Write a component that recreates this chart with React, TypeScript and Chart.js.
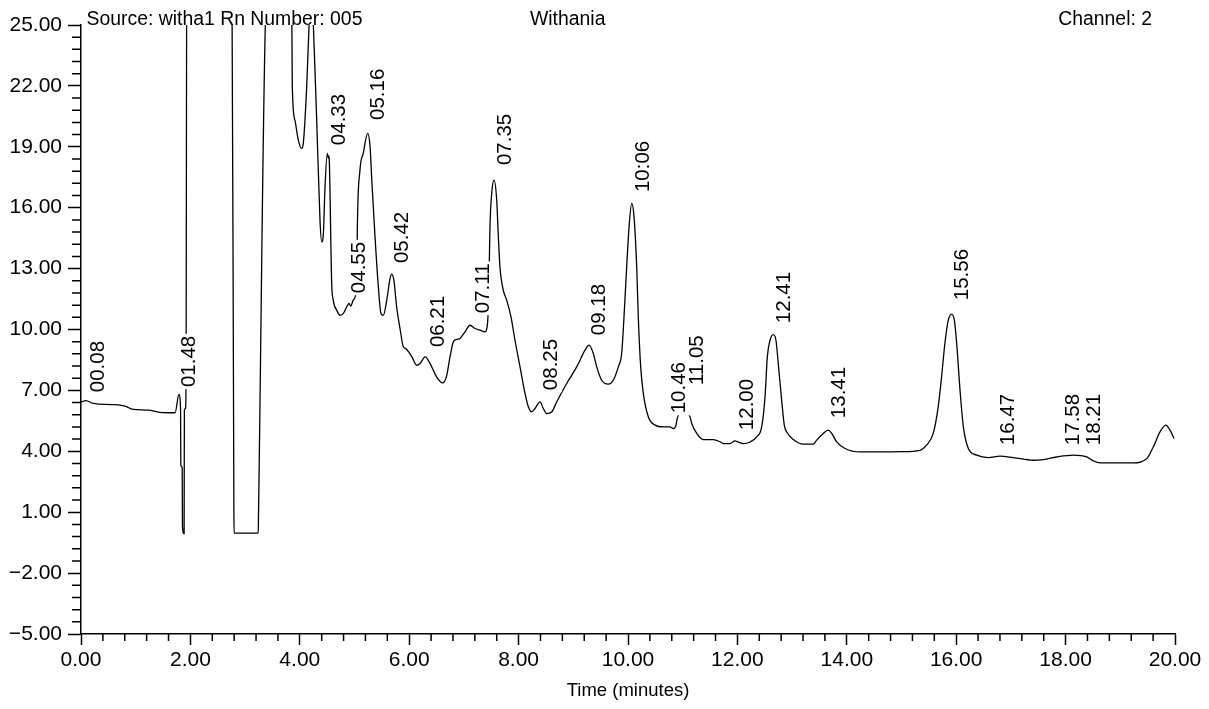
import React, { useEffect, useRef } from "react";
import { Chart, registerables } from "chart.js";

Chart.register(...registerables);

// ---- data (time in minutes, detector response) ----
const traceTimes: number[] = [
  0.0, 0.09, 0.22, 0.56, 0.74, 0.83, 0.93, 1.23, 1.44, 1.72, 1.79, 1.82, 1.825, 1.85, 1.855, 1.875, 1.885,
  1.89, 1.91, 1.92, 1.935, 2.755, 2.795, 2.8, 3.24, 3.245, 3.39, 3.84, 3.863, 3.912, 3.973, 4.035, 4.064,
  4.126, 4.168, 4.21, 4.245, 4.309, 4.369, 4.4, 4.431, 4.461, 4.503, 4.521, 4.53, 4.539, 4.583, 4.611,
  4.675, 4.736, 4.797, 4.858, 4.9, 4.931, 4.978, 5.02, 5.045, 5.051, 5.1, 5.16, 5.241, 5.285, 5.316,
  5.375, 5.436, 5.484, 5.527, 5.59, 5.65, 5.68, 5.72, 5.77, 5.832, 5.892, 5.93, 5.99, 6.05, 6.14, 6.2,
  6.29, 6.38, 6.5, 6.61, 6.68, 6.746, 6.807, 6.868, 6.929, 7.02, 7.112, 7.203, 7.294, 7.386, 7.428,
  7.455, 7.465, 7.477, 7.508, 7.55, 7.6, 7.627, 7.659, 7.72, 7.782, 7.861, 7.934, 8.026, 8.117, 8.178,
  8.24, 8.3, 8.391, 8.452, 8.513, 8.605, 8.696, 8.879, 9.062, 9.214, 9.287, 9.366, 9.428, 9.519, 9.64,
  9.731, 9.823, 9.884, 9.927, 9.976, 10.024, 10.068, 10.11, 10.159, 10.188, 10.232, 10.28, 10.371,
  10.494, 10.645, 10.768, 10.829, 10.878, 10.9, 10.95, 11.01, 11.08, 11.133, 11.165, 11.256, 11.378,
  11.56, 11.682, 11.743, 11.865, 11.956, 12.017, 12.109, 12.23, 12.353, 12.444, 12.505, 12.547, 12.596,
  12.657, 12.705, 12.747, 12.809, 12.857, 12.9, 13.022, 13.205, 13.388, 13.449, 13.57, 13.662, 13.724,
  13.815, 13.967, 14.241, 14.667, 15.0, 15.338, 15.457, 15.58, 15.671, 15.733, 15.793, 15.855, 15.918,
  15.966, 16.009, 16.07, 16.131, 16.222, 16.375, 16.587, 16.801, 17.044, 17.41, 17.593, 17.837, 18.141,
  18.385, 18.507, 18.629, 19.238, 19.483, 19.604, 19.726, 19.831, 19.909, 19.982,
];
const traceValues: number[] = [
  6.42, 6.5, 6.36, 6.3, 6.26, 6.2, 6.08, 6.03, 5.92, 5.9, 6.8, 6.1, 3.3, 3.2, 0.3, -0.06, -0.06,
  6.05, 6.1, 7.2, 30, 30, 1.0, -0.03, -0.03, 0.85, 26.5, 30, 21.96, 20.3, 19.33, 18.92, 19.17,
  21.96, 24.9, 27, 25.2, 20.3, 15.4, 14.32, 14.73, 17.03, 18.68, 18.43, 18.55, 18.35, 12.27, 11.45,
  10.95, 10.7, 10.79, 11.12, 11.28, 11.15, 11.45, 11.7, 13.0, 14.8, 17.85, 18.68, 19.66, 19.0, 17.36,
  14.57, 12.1, 10.79, 10.7, 11.45, 12.52, 12.73, 12.43, 11.12, 10.05, 9.15, 9.07, 8.9, 8.65, 8.24, 8.33,
  8.65, 8.33, 7.67, 7.37, 7.67, 8.65, 9.39, 9.51, 9.56, 9.88, 10.21, 10.05, 9.97, 9.88, 10.2,
  11.8, 13.34, 15.1, 16.7, 17.36, 16.37, 14.73, 13.09, 11.94, 11.45, 10.62, 9.47, 8.16, 6.85, 6.19,
  5.94, 6.11, 6.43, 6.11, 5.86, 5.94, 6.43, 7.34, 8.16, 8.98, 9.23, 8.82, 8.16, 7.5, 7.31,
  7.5, 8.16, 8.82, 10.62, 13.09, 15.23, 16.21, 15.55, 13.09, 10.62, 8.16, 6.85, 5.7,
  5.29, 5.2, 5.2, 5.12, 5.29, 5.62, 5.9, 6.0, 5.95, 5.7, 5.37, 4.88, 4.58,
  4.58, 4.47, 4.38, 4.38, 4.51, 4.45, 4.38, 4.46, 4.71, 5.2, 6.68, 8.65, 9.47,
  9.75, 9.47, 8.33, 6.52, 5.29, 4.96, 4.58, 4.35, 4.35, 4.55, 4.88, 5.04, 4.88,
  4.46, 4.14, 3.97, 3.97, 3.98, 4.05, 4.3, 4.88, 6.19, 7.67, 9.31, 10.46, 10.76,
  10.46, 9.31, 7.0, 5.2, 4.14, 3.81, 3.69, 3.76, 3.69, 3.56, 3.59, 3.72, 3.81,
  3.72, 3.53, 3.43, 3.43, 3.64, 4.22, 4.96, 5.29, 5.04, 4.63,
];

// peak labels (retention time mm.ss) and the response level they sit above
const peakLabels: string[] = [
  "00.08", "01.48", "04.33", "04.55", "05.16", "05.42", "06.21", "07.11", "07.35", "08.25", "09.18",
  "10:06", "10.46", "11.05", "12.00", "12.41", "13.41", "15.56", "16.47", "17.58", "18.21",
];
const peakValues: number[] = [
  6.37, 6.62, 18.54, 11.25, 19.78, 12.73, 8.59, 10.26, 17.56, 6.47, 9.18,
  16.23, 5.33, 6.72, 4.5, 9.77, 5.09, 10.9, 3.76, 3.76, 3.76,
];

const headerLeft = "Source: witha1 Rn Number: 005";
const headerMiddle = "Withania";
const headerRight = "Channel: 2";
const xAxisTitle = "Time (minutes)";

const xMin = 0, xMax = 20, xMajor = 2, xMinor = 0.4;
const yMin = -5, yMax = 25, yMajor = 3, yMinor = 0.6;

const FONT = '"Liberation Sans", Arial, Helvetica, sans-serif';

const labelTime = (l: string) => {
  const [m, s] = l.split(/[.:]/).map(Number);
  return m + s / 60;
};
const fmt = (v: number) => (v < 0 ? "\u2212" + Math.abs(v).toFixed(2) : v.toFixed(2));

const decorPlugin = {
  id: "decor",
  afterDatasetsDraw(chart: any) {
    const { ctx, scales } = chart;
    const x = scales.x, y = scales.y;
    ctx.save();
    ctx.font = `20.5px ${FONT}`;
    ctx.textBaseline = "top";
    ctx.textAlign = "left";
    peakLabels.forEach((lab, i) => {
      const px = x.getPixelForValue(labelTime(lab)) - 0.5;
      const py = y.getPixelForValue(peakValues[i]) - 11;
      ctx.save();
      ctx.translate(px, py);
      ctx.rotate(-Math.PI / 2);
      const w = ctx.measureText(lab).width;
      ctx.fillStyle = "#fff";
      ctx.fillRect(-2, 1, w + 4, 20);
      ctx.fillStyle = "#000";
      ctx.fillText(lab, 0, 0);
      ctx.restore();
    });
    ctx.restore();
  },
  afterDraw(chart: any) {
    const { ctx, scales, chartArea } = chart;
    const x = scales.x, y = scales.y;
    ctx.save();
    ctx.strokeStyle = "#000";
    ctx.lineWidth = 1.5;
    ctx.beginPath();
    const ny = Math.round((yMax - yMin) / yMinor);
    for (let i = 0; i <= ny; i++) {
      if (i % Math.round(yMajor / yMinor) === 0) continue;
      const py = y.getPixelForValue(yMin + i * yMinor);
      ctx.moveTo(chartArea.left - 9, py);
      ctx.lineTo(chartArea.left, py);
    }
    const nx = Math.round((xMax - xMin) / xMinor);
    for (let i = 0; i <= nx; i++) {
      if (i % Math.round(xMajor / xMinor) === 0) continue;
      const px = x.getPixelForValue(xMin + i * xMinor);
      ctx.moveTo(px, chartArea.bottom);
      ctx.lineTo(px, chartArea.bottom + 7);
    }
    ctx.stroke();

    ctx.fillStyle = "#000";
    ctx.font = `19.4px ${FONT}`;
    ctx.textBaseline = "alphabetic";
    ctx.textAlign = "left";
    ctx.fillText(headerLeft, 86.5, 25);
    ctx.fillText(headerMiddle, 530, 25);
    ctx.textAlign = "right";
    ctx.fillText(headerRight, 1152, 25);
    ctx.restore();
  },
};

export default function App() {
  const ref = useRef<HTMLCanvasElement | null>(null);
  useEffect(() => {
    if (!ref.current) return;
    Chart.defaults.font.family = FONT;
    const data = traceTimes.map((t, i) => ({ x: t, y: traceValues[i] }));
    const chart = new Chart(ref.current, {
      type: "line",
      data: {
        datasets: [
          {
            data,
            borderColor: "#000",
            borderWidth: 1.3,
            pointRadius: 0,
            fill: false,
            cubicInterpolationMode: "monotone",
          } as any,
        ],
      },
      options: {
        animation: false,
        responsive: true,
        maintainAspectRatio: false,
        layout: { padding: { top: 25, right: 34, left: 0, bottom: 0 } },
        elements: { line: { capBezierPoints: false } as any },
        plugins: { legend: { display: false }, tooltip: { enabled: false }, title: { display: false } },
        scales: {
          x: {
            type: "linear",
            min: xMin,
            max: xMax,
            border: { display: true, color: "#000", width: 1.5 },
            grid: { display: true, drawOnChartArea: false, drawTicks: true, tickLength: 11, tickColor: "#000", tickWidth: 1.5 },
            ticks: {
              stepSize: xMajor,
              autoSkip: false,
              maxRotation: 0,
              padding: 3,
              color: "#000",
              font: { size: 21, family: FONT },
              callback: (v: any) => fmt(Number(v)),
            },
            title: {
              display: true,
              text: xAxisTitle,
              color: "#000",
              font: { size: 18.5, family: FONT },
              padding: { top: 0, bottom: 7 },
            },
            afterFit: (s: any) => {
              s.height = 75;
            },
          },
          y: {
            type: "linear",
            min: yMin,
            max: yMax,
            border: { display: true, color: "#000", width: 1.5 },
            grid: { display: true, drawOnChartArea: false, drawTicks: true, tickLength: 13, tickColor: "#000", tickWidth: 1.5 },
            ticks: {
              stepSize: yMajor,
              autoSkip: false,
              padding: 6,
              color: "#000",
              font: { size: 21, family: FONT },
              callback: (v: any) => fmt(Number(v)),
            },
            afterFit: (s: any) => {
              s.width = 81;
            },
          },
        },
      },
      plugins: [decorPlugin],
    });
    return () => chart.destroy();
  }, []);
  return (
    <div style={{ position: "fixed", left: 0, top: 0, width: 1209, height: 709, background: "#fff" }}>
      <canvas ref={ref} />
    </div>
  );
}
